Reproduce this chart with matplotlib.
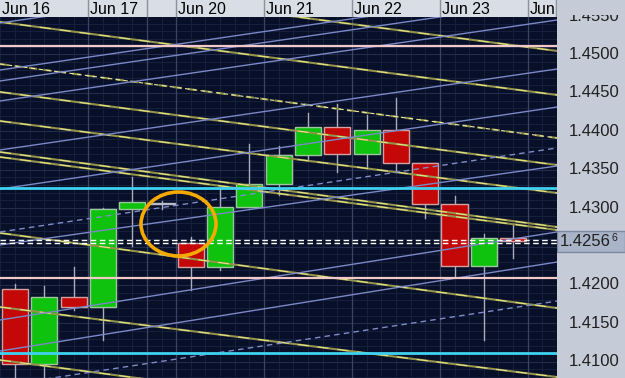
import matplotlib
matplotlib.use("Agg")
import matplotlib.pyplot as plt
from matplotlib.patches import Rectangle, Ellipse
import numpy as np

# ---------------- data ----------------
day_labels = ["Jun 16", "Jun 17", "", "Jun 20", "Jun 21", "Jun 22", "Jun 23", "Jun"]
day_starts = [-0.5, 2.5, 4.5, 5.5, 8.5, 11.5, 14.5, 17.5]

opens  = [1.4195, 1.4097, 1.4184, 1.4171, 1.4299, 1.43066, 1.42552, 1.42233, 1.43014,
          1.4332, 1.43685, 1.44056, 1.43704, 1.44017, 1.43587, 1.43053, 1.42246, 1.42611]
highs  = [1.4201, 1.41986, 1.42233, 1.43001, 1.43405, 1.4309, 1.42624, 1.43262, 1.43835,
          1.43809, 1.44238, 1.44355, 1.44212, 1.44434, 1.43587, 1.43158, 1.42663, 1.4278]
lows   = [1.4060, 1.4065, 1.41673, 1.41283, 1.42506, 1.4299, 1.41934, 1.42194, 1.43236,
          1.4317, 1.43626, 1.4347, 1.43522, 1.4347, 1.42871, 1.42116, 1.41283, 1.42344]
closes = [1.4097, 1.41842, 1.41712, 1.42988, 1.43073, 1.43058, 1.42233, 1.43014, 1.4332,
          1.43685, 1.44056, 1.43704, 1.44017, 1.43587, 1.43053, 1.42246, 1.42611, 1.42566]

current_price = 1.42566
price_ticks = [1.4100, 1.4150, 1.4200, 1.4300, 1.4350, 1.4400, 1.4450, 1.4500, 1.4550]

hline_prices = [1.45104, 1.43262, 1.42096, 1.41113]
hline_kinds  = ["pink", "cyan", "pink", "cyan"]

# trend lines: price at left edge and right edge of the chart
yellow_left  = [1.45996, 1.45423, 1.44876, 1.44512, 1.44134, 1.43730, 1.43665, 1.42676, 1.41712, 1.41022]
yellow_right = [1.45046, 1.44473, 1.43913, 1.43561, 1.43197, 1.42754, 1.42715, 1.41699, 1.40801, 1.40072]
yellow_dash  = [False, False, True, False, False, False, False, False, False, False]

blue_left  = [1.45410, 1.44798, 1.44655, 1.44395, 1.43757, 1.43249, 1.42689, 1.42520, 1.41543, 1.41139, 1.40684]
blue_right = [1.46465, 1.45853, 1.45710, 1.45449, 1.44811, 1.44316, 1.43783, 1.43548, 1.42689, 1.42298, 1.41790]
blue_dash  = [False, False, False, False, False, False, True, False, False, False, True]

# ---------------- layout ----------------
W, H = 625, 378
X0, X1 = -0.512, 18.498
P_TOP, P_BOT = 1.45488, 1.40788
BG = "#070f29"
AXIS_BG = "#c6ccd7"

plt.rcParams['font.family'] = ['Liberation Sans', 'DejaVu Sans']

fig = plt.figure(figsize=(W / 100, H / 100), dpi=100)
fig.patch.set_facecolor(AXIS_BG)

ax = fig.add_axes([0, 0, 557 / W, 361 / H])
ax.set_facecolor(BG)
ax.set_xlim(X0, X1)
ax.set_ylim(P_BOT, P_TOP)
for s in ax.spines.values():
    s.set_visible(False)
ax.set_xticks([])
ax.set_yticks([])

# grid
for gx in np.arange(-0.5, 19, 0.5):
    ax.axvline(gx, color="#17213e", lw=0.7, zorder=0)
for gy in np.arange(1.407, 1.456, 0.001):
    ax.axhline(gy, color="#17213e", lw=0.7, zorder=0)
for gy in np.arange(1.410, 1.456, 0.005):
    ax.axhline(gy, color="#222d4c", lw=0.8, zorder=0)
for gx in day_starts[1:]:
    ax.axvline(gx, color="#3a4564", lw=0.9, zorder=0)

# candles
width = 0.89
for i, (o, h, l, c) in enumerate(zip(opens, highs, lows, closes)):
    up = c >= o
    face = "#0ec20e" if up else "#c40808"
    edge = "#9cc79c" if up else "#d4a0a0"
    lo_b, hi_b = min(o, c), max(o, c)
    ax.plot([i, i], [l, lo_b], color="#a9adbd", lw=1.0, zorder=2)
    ax.plot([i, i], [hi_b, h], color="#a9adbd", lw=1.0, zorder=2)
    if abs(c - o) < 0.00012:
        face = "#0a1230"
        edge = "#b8bcc8"
    ax.add_patch(Rectangle((i - width / 2, lo_b), width, hi_b - lo_b,
                           facecolor=face, edgecolor=edge, lw=1.0, zorder=3))

# trend lines
for yl, yr, d in zip(yellow_left, yellow_right, yellow_dash):
    if d:
        ax.plot([X0, X1], [yl, yr], color="#8e8e4c", lw=1.5, ls=(0, (4, 3)), zorder=4)
        ax.plot([X0, X1], [yl, yr], color="#ecec9c", lw=0.8, ls=(0, (4, 3)), zorder=4)
    else:
        ax.plot([X0, X1], [yl, yr], color="#92924c", lw=1.5, zorder=4)
        ax.plot([X0, X1], [yl, yr], color="#e6e684", lw=0.8, ls=(0, (10, 8)), zorder=4)

for yl, yr, d in zip(blue_left, blue_right, blue_dash):
    if d:
        ax.plot([X0, X1], [yl, yr], color="#7f8cc8", lw=1.0, ls=(0, (4, 3)), zorder=4)
    else:
        ax.plot([X0, X1], [yl, yr], color="#7a88c6", lw=1.0, zorder=4)

# horizontal levels
for p, k in zip(hline_prices, hline_kinds):
    if k == "pink":
        ax.axhline(p, color="#f2c9c9", lw=1.6, zorder=5)
    else:
        ax.axhline(p, color="#3fd2f0", lw=2.0, zorder=5)

# current price dashed line (double)
ax.axhline(current_price + 0.0002, color="white", lw=1.0, ls=(0, (4, 2.5)), zorder=6)
ax.axhline(current_price - 0.0002, color="white", lw=1.0, ls=(0, (4, 2.5)), zorder=6)

# orange circle annotation
ax.add_patch(Ellipse((5.58, 1.42793), 2.56, 0.00833, facecolor="none",
                     edgecolor="#f4aa00", lw=2.6, zorder=7))

# ---------------- header (dates) ----------------
hdr = fig.add_axes([0, 361 / H, 557 / W, 17 / H])
hdr.set_facecolor("#d9dde5")
hdr.set_xlim(X0, X1)
hdr.set_ylim(0, 1)
hdr.set_xticks([])
hdr.set_yticks([])
for s in hdr.spines.values():
    s.set_visible(False)
for lab, xs in zip(day_labels, day_starts):
    if xs > X0 + 0.1:
        hdr.axvline(xs, color="#8a909c", lw=1.0)
    hdr.text(xs + 0.07, 0.45, lab, fontsize=11.5, color="black",
             ha="left", va="center")
hdr.axvline(X1 - 0.02, color="#8a909c", lw=1.0)

# ---------------- price axis ----------------
pax = fig.add_axes([557 / W, 0, 68 / W, 363 / H])
pax.set_facecolor(AXIS_BG)
pax.set_xlim(0, 1)
pax.set_ylim(P_BOT, 1.45514)
pax.set_xticks([])
pax.set_yticks([])
for s in pax.spines.values():
    s.set_visible(False)
for t in price_ticks:
    txt = pax.text(0.915, t, f"{t:.4f}", fontsize=12, color="#202020",
                   ha="right", va="center")
    txt.set_clip_on(True)
    txt.set_clip_box(pax.bbox)

pax.add_patch(Rectangle((0.0, current_price - 0.00135), 1.0, 0.0027,
                        facecolor="#a9b4c8", edgecolor="#7d8aa3", lw=1.0, zorder=3))
cp = f"{current_price:.5f}"
pax.text(0.79, current_price, cp[:-1], fontsize=12, color="#202020",
         ha="right", va="center", zorder=4)
pax.text(0.80, current_price + 0.0004, cp[-1], fontsize=7.5, color="#202020",
         ha="left", va="center", zorder=4)

fig.savefig("out.png", dpi=100, facecolor=fig.get_facecolor())
